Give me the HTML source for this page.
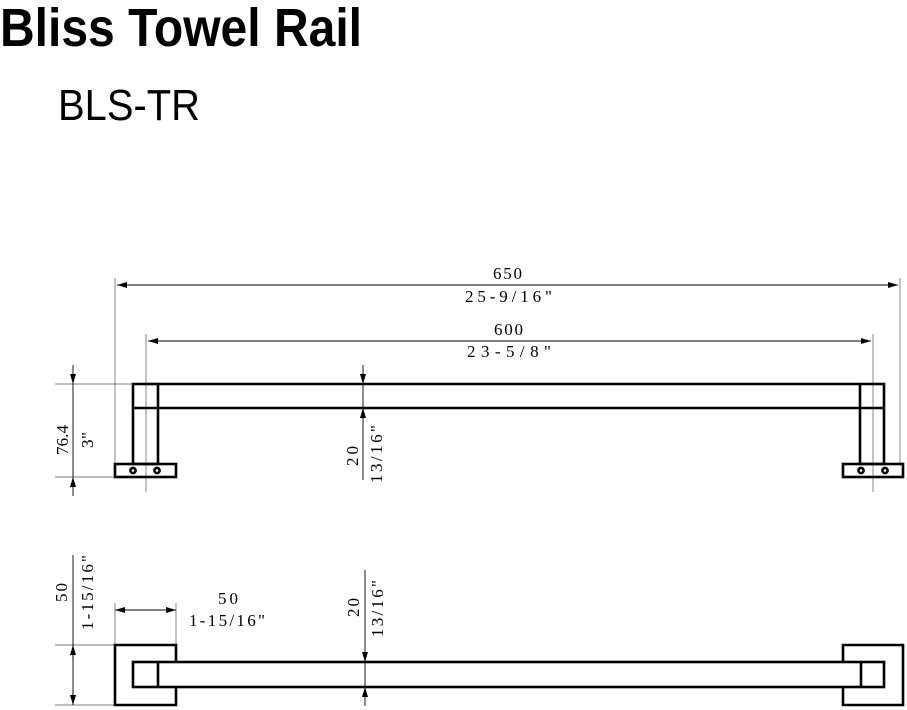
<!DOCTYPE html>
<html><head><meta charset="utf-8"><style>html,body{margin:0;padding:0;background:#fff;}svg{display:block}</style></head><body>
<svg width="907" height="710" viewBox="0 0 907 710" xmlns="http://www.w3.org/2000/svg">
<defs>
<marker id="a" viewBox="0 0 10 6" refX="10" refY="3" markerWidth="10" markerHeight="6" markerUnits="userSpaceOnUse" orient="auto-start-reverse"><path d="M0,0 L10,3 L0,6 z" fill="#000"/></marker>
</defs>
<text x="0" y="46" font-family="Liberation Sans, sans-serif" font-weight="bold" font-size="54" textLength="362" lengthAdjust="spacingAndGlyphs">Bliss Towel Rail</text>
<text x="58" y="120" font-family="Liberation Sans, sans-serif" font-size="44" textLength="142" lengthAdjust="spacingAndGlyphs">BLS-TR</text>

<g stroke="#000" fill="none">
<g stroke-width="0.7" stroke="#555">
<line x1="115" y1="278" x2="115" y2="464"/>
<line x1="900" y1="278" x2="900" y2="464"/>
<line x1="146" y1="334" x2="146" y2="492"/>
<line x1="873" y1="334" x2="873" y2="492"/>
<line x1="55" y1="384" x2="133" y2="384"/>
<line x1="55" y1="477" x2="115" y2="477"/>
</g>
<g stroke-width="0.9">
<line x1="117" y1="285" x2="898" y2="285" marker-start="url(#a)" marker-end="url(#a)"/>
<line x1="148" y1="341" x2="871" y2="341" marker-start="url(#a)" marker-end="url(#a)"/>
<line x1="73" y1="365" x2="73" y2="384" marker-end="url(#a)"/>
<line x1="73" y1="384" x2="73" y2="477"/>
<line x1="73" y1="496" x2="73" y2="477" marker-end="url(#a)"/>
<line x1="363" y1="365" x2="363" y2="384" marker-end="url(#a)"/>
<line x1="363" y1="384" x2="363" y2="408"/>
<line x1="363" y1="480" x2="363" y2="408" marker-end="url(#a)"/>
</g>
<g stroke-width="2.6">
<line x1="158" y1="384" x2="860" y2="384"/>
<line x1="158" y1="408" x2="860" y2="408"/>
<rect x="133" y="384" width="25" height="80"/>
<line x1="133" y1="408" x2="158" y2="408"/>
<rect x="115" y="464" width="61" height="13"/>
<circle cx="133" cy="470.5" r="2.6"/><circle cx="157" cy="470.5" r="2.6"/>
<rect x="860" y="384" width="24" height="80"/>
<line x1="860" y1="408" x2="884" y2="408"/>
<rect x="843" y="464" width="60" height="13"/>
<circle cx="861" cy="470.5" r="2.6"/><circle cx="885" cy="470.5" r="2.6"/>
</g>

<g stroke-width="0.7" stroke="#555">
<line x1="55" y1="645" x2="115" y2="645"/>
<line x1="55" y1="705" x2="115" y2="705"/>
<line x1="115" y1="603" x2="115" y2="645"/>
<line x1="176" y1="603" x2="176" y2="645"/>
</g>
<g stroke-width="0.9">
<line x1="73" y1="555" x2="73" y2="705"/>
<line x1="73" y1="660" x2="73" y2="645" marker-end="url(#a)"/>
<line x1="73" y1="690" x2="73" y2="705" marker-end="url(#a)"/>
<line x1="135" y1="610" x2="115" y2="610" marker-end="url(#a)"/>
<line x1="115" y1="610" x2="176" y2="610"/>
<line x1="156" y1="610" x2="176" y2="610" marker-end="url(#a)"/>
<line x1="365" y1="570" x2="365" y2="662" marker-end="url(#a)"/>
<line x1="365" y1="662" x2="365" y2="687"/>
<line x1="365" y1="706" x2="365" y2="687" marker-end="url(#a)"/>
</g>
<g stroke-width="2.6">
<path d="M176,662 V645 H115 V705 H176 V687"/>
<path d="M843,662 V645 H903 V705 H843 V687"/>
<rect x="133" y="662" width="751" height="25"/>
<line x1="158" y1="662" x2="158" y2="687"/>
<line x1="861" y1="662" x2="861" y2="687"/>
</g>
</g>

<g font-family="Liberation Serif, serif" font-size="17" fill="#000" lengthAdjust="spacingAndGlyphs">
<text x="493" y="279" textLength="29">650</text>
<text x="465" y="302" textLength="87">25-9/16"</text>
<text x="494" y="335" textLength="29">600</text>
<text x="467" y="357" textLength="84">23-5/8"</text>
<text x="218" y="604" textLength="20">50</text>
<text x="189" y="626" textLength="76">1-15/16"</text>
<text transform="translate(68,455) rotate(-90)" textLength="30">76.4</text>
<text transform="translate(93,448) rotate(-90)" textLength="16">3"</text>
<text transform="translate(358,466) rotate(-90)" textLength="20">20</text>
<text transform="translate(382,483) rotate(-90)" textLength="58">13/16"</text>
<text transform="translate(67,602) rotate(-90)" textLength="19">50</text>
<text transform="translate(93,630) rotate(-90)" textLength="75">1-15/16"</text>
<text transform="translate(359,617) rotate(-90)" textLength="19">20</text>
<text transform="translate(383,637) rotate(-90)" textLength="57">13/16"</text>
</g>
</svg>
</body></html>
